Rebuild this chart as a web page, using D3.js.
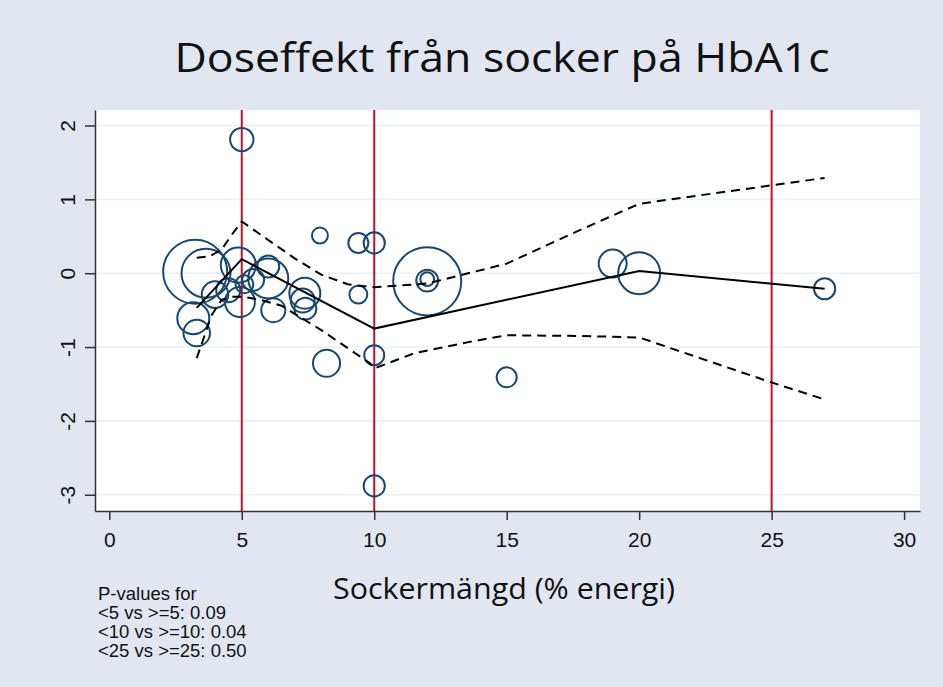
<!DOCTYPE html>
<html>
<head>
<meta charset="utf-8">
<script src="https://cdnjs.cloudflare.com/ajax/libs/d3/7.8.5/d3.min.js"></script>
<style>
  body { margin: 0; background: #e1e6f1; }
  svg { display: block; }
</style>
</head>
<body>
<div id="chart"></div>
<script>
// studies: sugar dose (% energy), HbA1c effect, weight (marker area)
var doseX = [3.24, 3.65, 3.17, 3.3, 3.99, 4.87, 4.49, 4.93, 5.1, 5.43, 6.0, 6.0, 6.19,
             5.0, 7.95, 7.38, 7.3, 7.4, 9.4, 10.0, 9.4, 8.2, 10.0, 12.0, 12.0, 12.0,
             10.0, 15.0, 19.0, 20.0, 27.0];
var effectY = [0.02, 0.0, -0.61, -0.81, -0.29, 0.11, -0.23, -0.39, -0.15, -0.09, 0.09, -0.07, -0.5,
               1.81, 0.51, -0.27, -0.37, -0.48, 0.41, 0.41, -0.29, -1.22, -1.11, -0.11, -0.1, -0.08,
               -2.88, -1.41, 0.13, 0.0, -0.21];
var weight = [256, 150, 64, 44, 44, 77, 36, 56, 20, 30, 30, 100, 36,
              34, 16, 60, 36, 30, 25, 28, 20, 46, 25, 290, 30, 12,
              28, 25, 49, 110, 28];

// fitted dose-response with confidence band
var fitX = [3.3, 5, 10, 20, 27];
var fitY = [-0.47, 0.19, -0.75, 0.03, -0.21];
var upperX = [3.3, 3.8, 4.24, 4.62, 5, 6, 7, 8, 9, 10, 12, 15, 17.8, 20, 25, 27];
var upperY = [0.21, 0.23, 0.32, 0.52, 0.70, 0.45, 0.2, -0.02, -0.15, -0.19, -0.14, 0.13, 0.59, 0.94, 1.19, 1.29];
var lowerX = [3.3, 3.86, 4.24, 4.6, 5.06, 5.69, 6.5, 8, 9.84, 10, 11.5, 13.6, 15, 17.8, 20, 25, 27];
var lowerY = [-1.15, -0.57, -0.36, -0.32, -0.32, -0.36, -0.44, -0.77, -1.22, -1.29, -1.085, -0.93, -0.84, -0.85, -0.87, -1.48, -1.71];

var cutpoints = [5, 10, 25];
var xTicks = [0, 5, 10, 15, 20, 25, 30];
var yTicks = [-3, -2, -1, 0, 1, 2];
var pLines = ["P-values for", "<5 vs >=5: 0.09", "<10 vs >=10: 0.04", "<25 vs >=25: 0.50"];

var width = 943, height = 687;
var margin = { top: 110, right: 23, bottom: 176, left: 95 };

var svg = d3.select("#chart").append("svg")
    .attr("width", width)
    .attr("height", height);

svg.append("rect")
    .attr("width", width).attr("height", height)
    .attr("fill", "#e1e6f1");

var x = d3.scaleLinear()
    .domain([-0.54, 30.6])
    .range([margin.left, width - margin.right]);
var y = d3.scaleLinear()
    .domain([-3.22, 2.21])
    .range([height - margin.bottom, margin.top]);
var r = d3.scaleSqrt()
    .domain([0, 256])
    .range([0, 32]);

// plot region
svg.append("rect")
    .attr("x", margin.left).attr("y", margin.top)
    .attr("width", width - margin.left - margin.right)
    .attr("height", height - margin.top - margin.bottom)
    .attr("fill", "white");

// grid
svg.append("g")
    .selectAll("line")
    .data(yTicks)
    .enter().append("line")
    .attr("x1", margin.left).attr("x2", width - margin.right)
    .attr("y1", function(d) { return y(d); })
    .attr("y2", function(d) { return y(d); })
    .attr("stroke", "#eaf2f3")
    .attr("stroke-width", 1.6);

// cut point lines
svg.append("g")
    .selectAll("line")
    .data(cutpoints)
    .enter().append("line")
    .attr("x1", function(d) { return x(d); })
    .attr("x2", function(d) { return x(d); })
    .attr("y1", margin.top).attr("y2", height - margin.bottom)
    .attr("stroke", "#c8102e")
    .attr("stroke-width", 2);

// study circles
svg.append("g")
    .selectAll("circle")
    .data(doseX)
    .enter().append("circle")
    .attr("cx", function(d) { return x(d); })
    .attr("cy", function(d, i) { return y(effectY[i]); })
    .attr("r", function(d, i) { return r(weight[i]); })
    .attr("fill", "none")
    .attr("stroke", "#1a476f")
    .attr("stroke-width", 2);

var line = d3.line()
    .x(function(d) { return x(d[0]); })
    .y(function(d) { return y(d[1]); });

function zip(a, b) { return a.map(function(v, i) { return [v, b[i]]; }); }

svg.append("path")
    .attr("d", line(zip(fitX, fitY)))
    .attr("fill", "none").attr("stroke", "black").attr("stroke-width", 2);

[zip(upperX, upperY), zip(lowerX, lowerY)].forEach(function(pts) {
  svg.append("path")
      .attr("d", line(pts))
      .attr("fill", "none").attr("stroke", "black")
      .attr("stroke-width", 2)
      .attr("stroke-dasharray", "9,6");
});

// axes
var xAxis = svg.append("g")
    .attr("transform", "translate(0," + (height - margin.bottom) + ")")
    .call(d3.axisBottom(x).tickValues(xTicks).tickSize(9).tickSizeOuter(0));
xAxis.select(".domain").attr("stroke", "#333").attr("stroke-width", 1.5);
xAxis.selectAll(".tick line").attr("stroke", "#333").attr("stroke-width", 1.5);
xAxis.selectAll(".tick text")
    .attr("y", 36)
    .attr("dy", 0)
    .attr("fill", "#111")
    .style("font-family", "Liberation Sans, Arial, sans-serif")
    .style("font-size", "21px");

var yAxis = svg.append("g")
    .attr("transform", "translate(" + margin.left + ",0)")
    .call(d3.axisLeft(y).tickValues(yTicks).tickSize(10).tickSizeOuter(0)
      .tickFormat(d3.format("d")));
yAxis.select(".domain").attr("stroke", "#333").attr("stroke-width", 1.5);
yAxis.selectAll(".tick line").attr("stroke", "#333").attr("stroke-width", 1.5);
yAxis.selectAll(".tick text")
    .attr("x", 0).attr("dy", 0)
    .attr("transform", "translate(-20,0) rotate(-90)")
    .attr("text-anchor", "middle")
    .attr("fill", "#111")
    .style("font-family", "Liberation Sans, Arial, sans-serif")
    .style("font-size", "21px");
// the reference uses a plain hyphen for negatives
yAxis.selectAll(".tick text").text(function(d) { return String(d); });

// titles
svg.append("text")
    .attr("x", 502).attr("y", 72)
    .attr("text-anchor", "middle")
    .attr("textLength", 655)
    .attr("lengthAdjust", "spacingAndGlyphs")
    .style("font-family", "Open Sans, sans-serif")
    .style("font-size", "41px")
    .attr("fill", "#111")
    .text("Doseffekt från socker på HbA1c");

svg.append("text")
    .attr("x", 504).attr("y", 599)
    .attr("text-anchor", "middle")
    .attr("textLength", 342)
    .attr("lengthAdjust", "spacingAndGlyphs")
    .style("font-family", "Open Sans, sans-serif")
    .style("font-size", "30px")
    .attr("fill", "#111")
    .text("Sockermängd (% energi)");

svg.append("g")
    .selectAll("text")
    .data(pLines)
    .enter().append("text")
    .attr("x", 98)
    .attr("y", function(d, i) { return 600 + i * 19; })
    .style("font-family", "Liberation Sans, Arial, sans-serif")
    .style("font-size", "18.5px")
    .attr("fill", "#111")
    .text(function(d) { return d; });
</script>
</body>
</html>
